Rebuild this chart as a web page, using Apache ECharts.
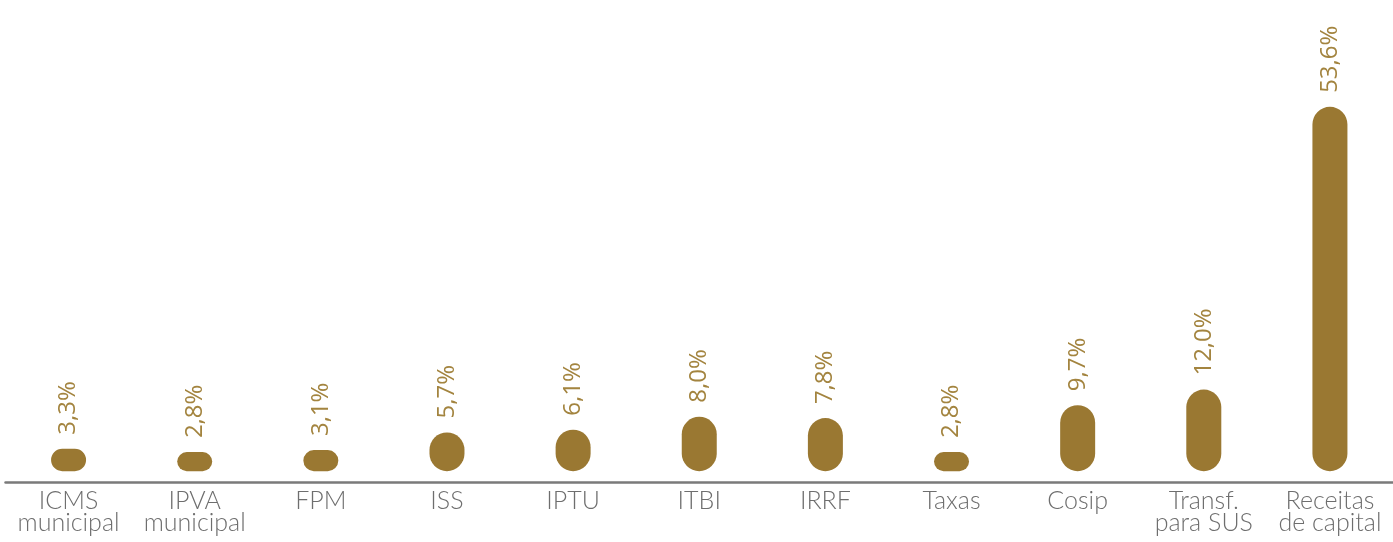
<!DOCTYPE html>
<html lang="pt-BR">
<head>
    <meta charset="UTF-8">
    <title>Receitas</title>
    <script src="https://cdn.jsdelivr.net/npm/echarts@6/dist/echarts.min.js"></script>
    <style>
        body { margin: 0; padding: 0; background: #fff; }
        #main { width: 1393px; height: 542px; }
    </style>
</head>
<body>
    <div id="main"></div>
    <script>
        // dados
        var categorias = ['ICMS\nmunicipal', 'IPVA\nmunicipal', 'FPM', 'ISS', 'IPTU', 'ITBI', 'IRRF', 'Taxas', 'Cosip', 'Transf.\npara SUS', 'Receitas\nde capital'];
        var valores = [3.3, 2.8, 3.1, 5.7, 6.1, 8.0, 7.8, 2.8, 9.7, 12.0, 53.6];

        var myChart = echarts.init(document.getElementById('main'));

        var option = {
            animation: false,
            grid: {
                left: 5.5,
                top: 9,
                bottom: 60,
                width: 1397
            },
            xAxis: {
                type: 'category',
                data: categorias,
                axisLine: {
                    onZero: false,
                    lineStyle: { color: '#7a7a7a', width: 2.5 }
                },
                axisTick: { show: false },
                axisLabel: {
                    interval: 0,
                    margin: 8,
                    color: '#6e6e6e',
                    fontFamily: 'Lato',
                    fontWeight: 300,
                    fontSize: 25,
                    lineHeight: 22
                }
            },
            yAxis: {
                type: 'value',
                min: -1.6,
                max: 68,
                show: false,
                splitLine: { show: false }
            },
            series: [
                {
                    type: 'bar',
                    data: valores,
                    barWidth: 35,
                    itemStyle: {
                        color: '#9a7832',
                        borderRadius: 17.5
                    },
                    label: {
                        show: true,
                        position: 'top',
                        rotate: 90,
                        align: 'left',
                        verticalAlign: 'middle',
                        distance: 14,
                        color: '#a3843f',
                        fontFamily: 'Open Sans',
                        fontSize: 24,
                        formatter: function (p) {
                            return p.value.toFixed(1).replace('.', ',') + '%';
                        }
                    }
                }
            ]
        };

        myChart.setOption(option);
    </script>
</body>
</html>
